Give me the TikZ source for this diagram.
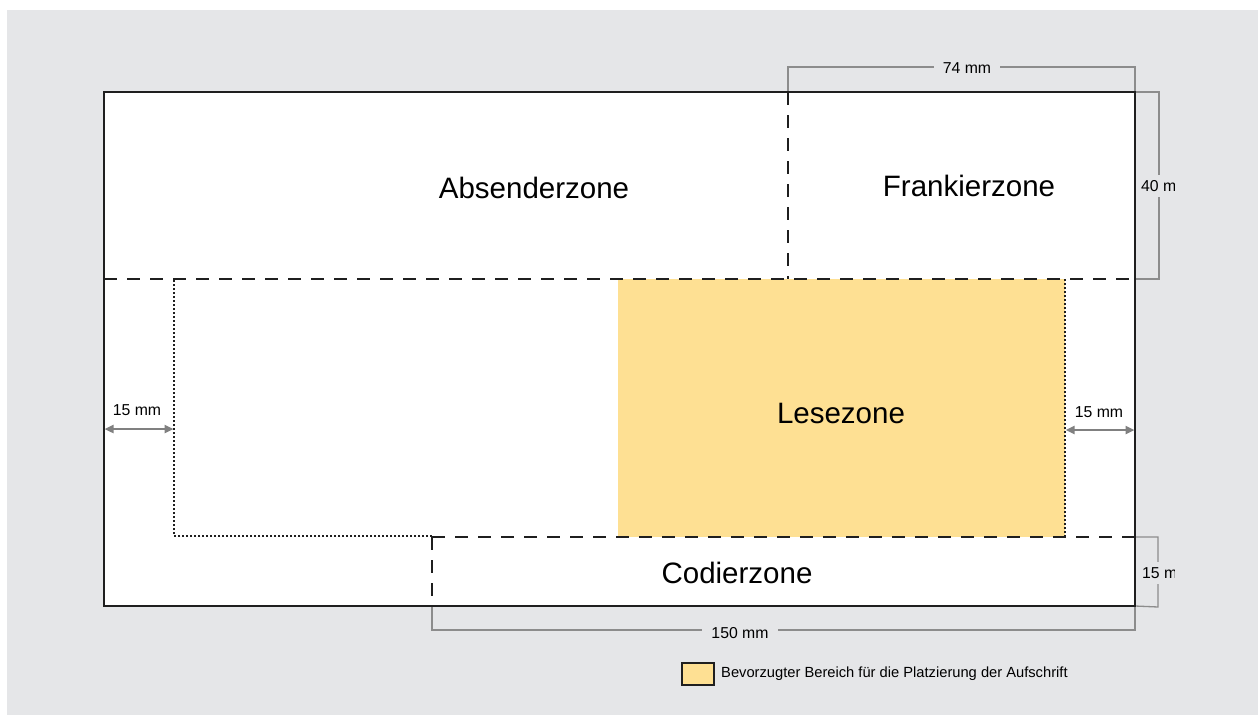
\documentclass[tikz,border=0pt]{standalone}
\usepackage{fontspec}
\setmainfont{Liberation Sans}
\usetikzlibrary{arrows.meta}
\definecolor{bgcol}{RGB}{229,230,232}
\definecolor{yel}{RGB}{254,224,147}
\definecolor{dimcol}{RGB}{140,140,140}
\definecolor{arrcol}{RGB}{128,128,128}
\begin{document}
\begin{tikzpicture}[x=1pt,y=-1pt,
  zonelabel/.style={font=\fontsize{29.5}{32}\selectfont, inner sep=0pt},
  dimlabel/.style={font=\fontsize{15.8}{18}\selectfont, fill=bgcol, inner xsep=9pt, inner ysep=2pt},
  smalllabel/.style={font=\fontsize{15.8}{18}\selectfont, inner sep=0pt},
  zoneline/.style={line width=1.8pt, dash pattern=on 13pt off 10pt, color=black!88},
  dotline/.style={line width=1.6pt, dash pattern=on 2pt off 2pt, color=black!88},
  dimline/.style={line width=1.3pt, color=dimcol},
  arrline/.style={line width=2.4pt, color=arrcol, {Triangle[length=9pt,width=8pt]}-{Triangle[length=9pt,width=8pt]}, shorten <=0.5pt, shorten >=0.5pt}
]
\useasboundingbox (0,0) rectangle (1258,715);
\fill[white] (0,0) rectangle (1258,715);
\fill[bgcol] (7,10) rectangle (1258,715);

% corner coordinates
\coordinate (TL) at (104,92);
\coordinate (TR) at (1135,92);
\coordinate (BR) at (1135,606);
\coordinate (BL) at (104,606);
\coordinate (ML) at (104,279);
\coordinate (MR) at (1135,279);
\coordinate (FT) at (788,92);
\coordinate (FB) at (788,279);
\coordinate (CL) at (432,537);
\coordinate (CLB) at (432,606);
\coordinate (CR) at (1135,537);
\coordinate (DL) at (174,279);
\coordinate (DLB) at (174,536);
\coordinate (DCL) at (432,536);
\coordinate (DR) at (1065,279);
\coordinate (DRB) at (1065,537);

% envelope
\fill[white] (TL) rectangle (BR);
\fill[yel] (618,279) rectangle (DRB);

% dimension lines
\coordinate (d74a) at (788,67);
\coordinate (d74b) at (1135,67);
\draw[dimline] (FT) -- (d74a) -- (d74b) -- (TR);
\node[dimlabel] (l74) at (967,68) {74 mm};

\coordinate (d40a) at (1159,92);
\coordinate (d40b) at (1159,279);
\draw[dimline] (TR) -- (d40a) -- (d40b) -- (MR);

\coordinate (d150a) at (432,630);
\coordinate (d150b) at (1135,630);
\draw[dimline] (CLB) -- (d150a) -- (d150b) -- (BR);
\node[dimlabel] (l150) at (740,633) {150 mm};

\coordinate (d15a) at (1158,537);
\coordinate (d15b) at (1158,607);
\draw[dimline] (CR) -- (d15a) -- (d15b) -- (BR);

\begin{scope}
  \clip (0,0) rectangle (1174,715);
  \node[dimlabel, anchor=west, inner xsep=1pt, inner ysep=5pt] (l40) at (1140,186) {40 mm};
  \node[dimlabel, anchor=west, inner xsep=1pt, inner ysep=5pt] (l15r) at (1141,573) {15 mm};
\end{scope}

% zone boundaries
\draw[zoneline] (ML) -- (MR);
\draw[zoneline] (FT) -- (FB);
\draw[zoneline] (CL) -- (CR);
\draw[zoneline] (CL) -- (CLB);
\draw[dotline] (DCL) -- (DLB) -- (DL);
\draw[dotline] (DR) -- (DRB);

% outer envelope border
\draw[line width=1.8pt, color=black!88] (TL) rectangle (BR);

% zone labels
\node[zonelabel] (abs) at (534,188) {Absenderzone};
\node[zonelabel] (fra) at (969,186) {Frankierzone};
\node[zonelabel] (les) at (841,413) {Lesezone};
\node[zonelabel] (cod) at (737,573) {Codierzone};

% margin arrows
\coordinate (al1) at (104,429);
\coordinate (al2) at (174,429);
\draw[arrline] (al1) -- (al2);
\node[smalllabel] (l15l) at (137,410) {15 mm};
\coordinate (ar1) at (1065,430);
\coordinate (ar2) at (1135,430);
\draw[arrline] (ar1) -- (ar2);
\node[smalllabel] (l15m) at (1099,412) {15 mm};

% legend
\draw[line width=1.5pt, color=black!88, fill=yel] (682,663) rectangle (714,685);
\node[anchor=west, inner sep=0pt, font=\fontsize{14.7}{17}\selectfont] (leg) at (721,674) {Bevorzugter Bereich für die Platzierung der Aufschrift};
\end{tikzpicture}
\end{document}
